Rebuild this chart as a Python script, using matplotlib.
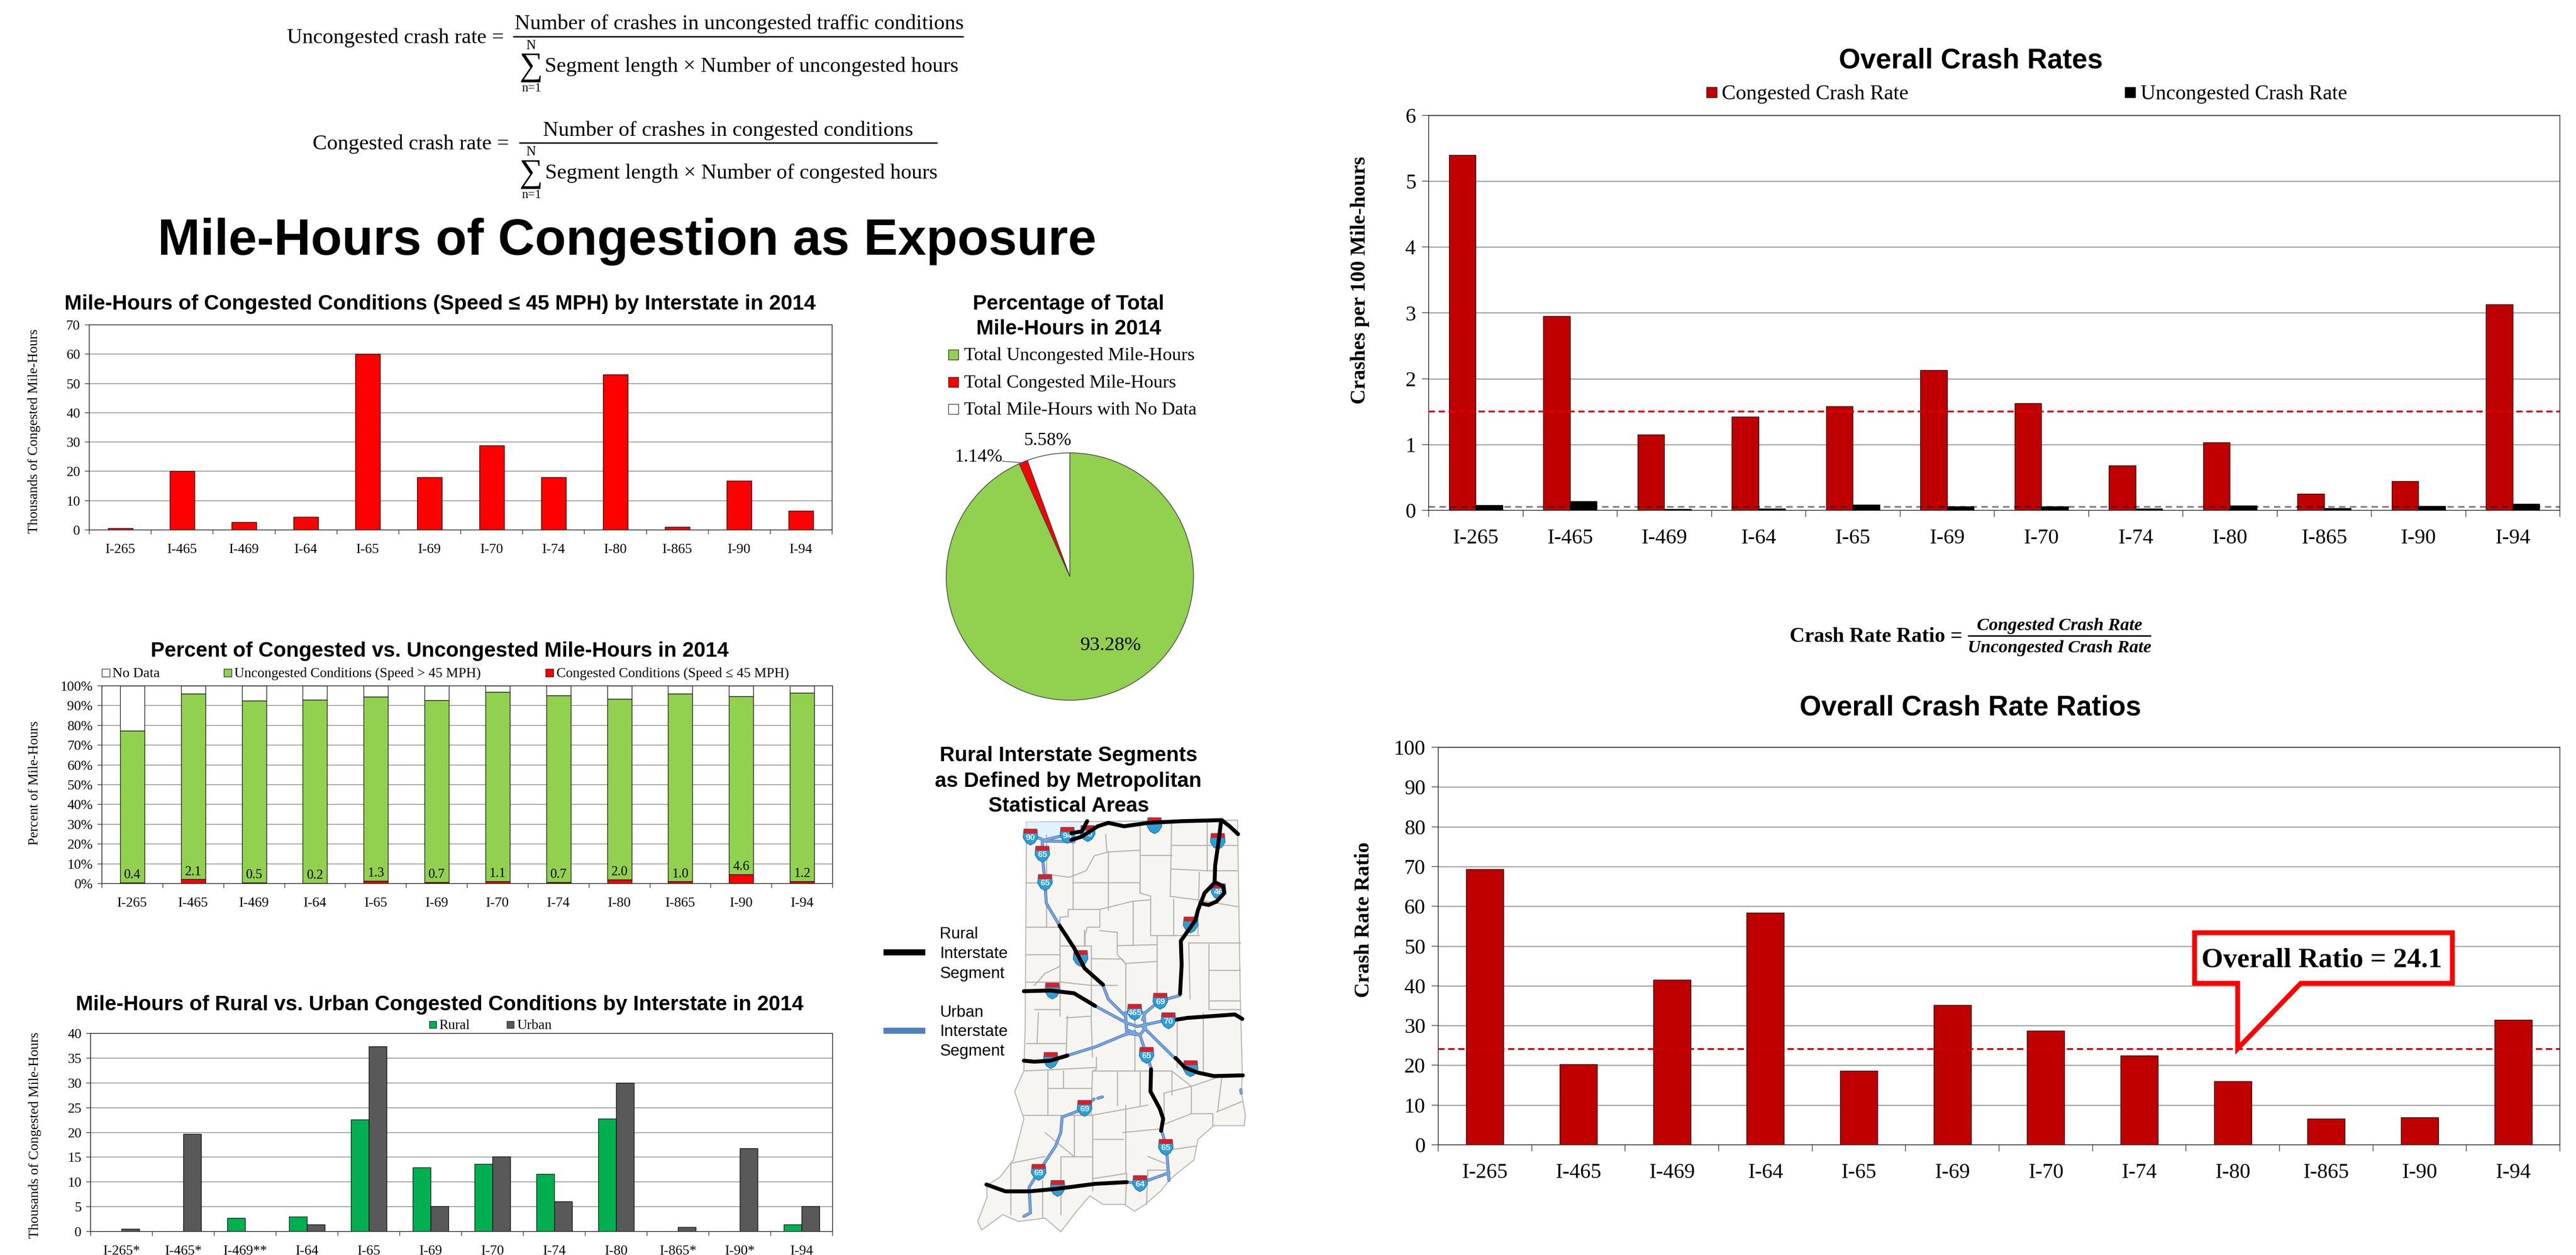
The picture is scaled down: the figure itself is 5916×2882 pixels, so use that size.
import matplotlib
matplotlib.use("Agg")
import matplotlib.pyplot as plt
from matplotlib.patches import Rectangle, Polygon

# ---------------- data ----------------
interstates = ["I-265", "I-465", "I-469", "I-64", "I-65", "I-69", "I-70", "I-74", "I-80", "I-865", "I-90", "I-94"]
interstates_marked = ["I-265*", "I-465*", "I-469**", "I-64", "I-65", "I-69", "I-70", "I-74", "I-80", "I-865*", "I-90*", "I-94"]

congested_miles = [0.6, 20, 2.7, 4.4, 60, 18, 28.8, 18, 53, 1, 16.8, 6.5]

pct_congested = [0.4, 2.1, 0.5, 0.2, 1.3, 0.7, 1.1, 0.7, 2.0, 1.0, 4.6, 1.2]
pct_uncongested = [76.9, 93.9, 92.0, 92.8, 93.2, 92.1, 95.9, 94.5, 91.3, 95.0, 90.2, 95.3]
pct_no_data = [22.7, 4.0, 7.5, 7.0, 5.5, 7.2, 3.0, 4.8, 6.7, 4.0, 5.2, 3.5]

rural_miles = [0, 0, 2.7, 3.0, 22.6, 12.9, 13.6, 11.6, 22.8, 0, 0, 1.4]
urban_miles = [0.5, 19.7, 0, 1.4, 37.4, 5.1, 15.1, 6.1, 30.0, 0.9, 16.8, 5.1]

pie_values = [93.28, 1.14, 5.58]

rate_congested = [5.40, 2.95, 1.15, 1.42, 1.58, 2.13, 1.63, 0.68, 1.03, 0.25, 0.44, 3.13]
rate_uncongested = [0.08, 0.14, 0.02, 0.025, 0.085, 0.06, 0.06, 0.025, 0.07, 0.03, 0.065, 0.10]
overall_congested = 1.5
overall_uncongested = 0.055

ratios = [69.3, 20.3, 41.5, 58.4, 18.6, 35.2, 28.7, 22.5, 16.0, 6.6, 6.9, 31.4]
overall_ratio = 24.1

# map geometry, traced in map-panel units
state_outline = [(590,303),(1390,297),(1395,550),(1400,800),(1408,1040),(1405,1095),(1420,1160),(1415,1190),(1300,1190),
    (1240,1230),(1225,1290),(1160,1330),(1130,1350),(1100,1380),(1040,1420),(1000,1440),(960,1420),(880,1420),(830,1395),
    (780,1440),(720,1500),(660,1460),(560,1470),(500,1450),(420,1495),(405,1470),(440,1400),(440,1365),(490,1340),
    (540,1290),(580,1170),(545,1090),(580,1030),(585,900)]
lake = [(590,303),(820,303),(765,345),(665,352),(590,345)]
county_lines = [
    [(665,340),(665,610)],[(766,360),(766,558)],[(890,340),(895,390)],[(900,390),(900,560)],[(1020,310),(1020,510)],
    [(1140,310),(1135,520)],[(1275,300),(1275,445)],[(1245,450),(1240,630)],[(590,480),(660,480)],
    [(665,455),(752,464),(816,445),(847,401),(900,390),(1020,385)],[(1020,400),(1140,400)],[(1140,370),(1390,370)],
    [(1140,440),(1275,445),(1390,445)],[(765,480),(1020,480),(1020,510),(1060,519)],[(1135,520),(1240,530),(1390,550)],
    [(717,581),(748,579),(748,558),(868,558),(993,534),(1060,530)],[(590,610),(713,610),(717,581)],
    [(868,558),(868,610),(820,610),(812,634),(812,664)],[(808,664),(808,618)],[(934,625),(934,690),(965,716)],[(868,620),(934,625)],
    [(590,690),(717,690)],[(717,664),(835,664)],[(717,581),(717,869)],[(993,534),(993,659)],[(934,664),(1081,661)],
    [(1060,519),(1060,634),(1245,634)],[(1084,636),(1084,806)],[(1147,528),(1147,634)],[(835,702),(953,703),(965,716),(1084,710)],
    [(965,716),(965,850)],[(1205,655),(1400,655)],[(1205,655),(1210,820)],[(1280,660),(1280,850)],
    [(1280,735),(1400,735)],[(1285,825),(1400,825)],[(1285,850),(1400,850)],[(835,664),(835,869)],[(717,770),(835,780),(935,780)],
    [(620,780),(660,745),(715,725)],[(590,770),(717,770)],[(620,850),(717,850)],[(635,860),(630,950)],[(745,870),(740,990)],
    [(835,870),(740,875)],[(835,870),(840,990)],[(590,950),(740,950)],[(585,1030),(855,1020)],[(855,990),(855,1025),(840,1030),(835,1160)],
    [(730,1030),(730,1080),(835,1080)],[(670,1030),(670,1160)],[(670,1080),(730,1080)],[(580,1160),(835,1160),(1050,1130)],
    [(840,1030),(1140,1030)],[(935,1030),(935,1130)],[(1020,1030),(1020,1130)],[(1140,1030),(1140,1100)],[(1140,1030),(1215,1075),(1330,1045)],
    [(1110,1095),(1215,1075),(1215,1155)],[(1110,1095),(1110,1180)],[(1315,1145),(1330,1050),(1405,1045)],[(1310,1150),(1405,1120)],
    [(1295,1155),(1295,1190)],[(1115,1185),(1215,1155),(1295,1155)],[(965,1130),(965,1330)],[(955,1210),(1090,1200)],[(840,1160),(840,1380)],
    [(840,1230),(955,1230)],[(840,1345),(965,1330)],[(770,1160),(770,1280),(720,1280),(720,1370)],[(660,1210),(770,1280)],[(770,1280),(840,1280)],
    [(720,1370),(720,1450)],[(530,1300),(530,1450)],[(530,1300),(660,1280)],[(650,1350),(650,1460)],[(965,1420),(970,1330)],
    [(1045,1420),(1050,1320),(1130,1320)],[(1050,1280),(1115,1300)],[(1100,1210),(1140,1260),(1230,1250)],[(1000,860),(1000,1030)],
    [(1160,880),(1160,1020)],[(1260,860),(1260,1030)]]
urban_routes = [
    [(605,345),(640,350),(660,358),(770,360)],[(660,355),(740,340)],
    [(650,360),(650,400),(660,480),(665,540),(715,605)],[(880,780),(900,820),(965,870),(970,910),(1020,925),(1045,985),(1062,1020)],
    [(1100,1200),(1120,1250),(1130,1350)],[(970,1355),(1020,1358),(1130,1328)],[(850,840),(970,890),(1010,900),(1130,880),(1160,880)],
    [(745,985),(850,960),(960,925),(1000,915)],[(965,860),(1035,860),(1040,905),(1020,925),(970,920),(965,860)],
    [(1030,880),(1040,860),(1095,825),(1170,810)],[(810,1140),(725,1165),(720,1210),(700,1250),(640,1320),(600,1370),(605,1445),(580,1455)],
    [(1030,900),(1155,995)],[(860,1110),(878,1106)],[(838,1118),(846,1112)],[(1402,1085),(1404,1095)]]
rural_routes = [
    [(760,335),(800,330),(820,300)],[(760,355),(800,345),(860,315),(900,305),(960,315),(1050,305),(1180,300),(1330,297),(1360,315),(1392,338)],
    [(1328,297),(1318,360),(1305,430),(1303,480),(1265,510),(1240,560),(1230,590),(1175,650),(1178,720),(1172,805)],
    [(1303,478),(1335,490),(1340,510),(1310,535),(1280,545),(1250,540)],[(715,605),(770,670),(810,730),(880,778)],
    [(580,797),(680,795),(770,803),(850,840)],[(580,1000),(620,1003),(680,1000),(745,985)],[(1160,880),(1200,875),(1380,865),(1408,878)],
    [(1155,992),(1190,1020),(1240,1035),(1300,1045),(1410,1043)],[(1062,1025),(1060,1090),(1095,1140),(1108,1170),(1100,1205)],
    [(438,1362),(510,1382),(600,1382),(700,1375),(850,1360),(970,1355)]]
shields = [(605,345,"90"),(745,340,"94"),(822,335,"80"),(1075,312,""),(1315,358,""),(1318,505,"46"),(1212,602,""),(650,395,"65"),
    (660,478,"65"),(795,700,""),(688,795,""),(682,998,""),(1000,857,"465"),(1097,825,"69"),(1128,882,"70"),(1045,983,"65"),
    (1212,1022,""),(810,1138,"69"),(1118,1252,"65"),(636,1325,"69"),(708,1372,""),(1020,1358,"64")]

# ---------------- style ----------------
W, H = 5916, 2882
SERIF = ["Liberation Serif", "DejaVu Serif"]
SANS = ["Liberation Sans", "DejaVu Sans"]
plt.rcParams["font.family"] = SERIF
fig = plt.figure(figsize=(W / 100, H / 100), dpi=100, facecolor="white")

GREEN = "#92D050"; RED = "#FF0000"; DKRED = "#C00000"; RURAL = "#00B050"; URBAN = "#595959"
EDGE = "#000000"

def axes_px(l, t, r, b):
    return fig.add_axes([l / W, 1 - b / H, (r - l) / W, (b - t) / H])

def style(ax, ymax, step, xlabels, fs, ytickfmt="{:g}", tick=7, xpad=15, ypad=8, grid="#868686", glw=1.2):
    ax.set_xlim(-0.5, 11.5); ax.set_ylim(0, ymax)
    ax.set_xticks([i - 0.5 for i in range(13)])
    ax.set_xticks(range(12), minor=True)
    ax.set_xticklabels([]); ax.set_xticklabels(xlabels, minor=True)
    ax.tick_params(axis="x", which="major", length=tick, width=1.2, color="#404040")
    ax.tick_params(axis="x", which="minor", length=0, pad=tick + xpad, labelsize=fs)
    yt = [step * i for i in range(int(round(ymax / step)) + 1)]
    ax.set_yticks(yt); ax.set_yticklabels([ytickfmt.format(v) for v in yt])
    ax.tick_params(axis="y", length=tick, width=1.2, color="#404040", pad=ypad, labelsize=fs)
    ax.grid(axis="y", color=grid, lw=glw); ax.set_axisbelow(True)
    for s in ax.spines.values():
        s.set_color("#303030"); s.set_linewidth(1.3)

# ---------------- chart 1 ----------------
a1 = axes_px(205, 746, 1911, 1217)
a1.bar(range(12), congested_miles, 0.4, color=RED, edgecolor=EDGE, lw=1)
style(a1, 70, 10, interstates, 23)

# ---------------- chart 2 ----------------
a2 = axes_px(234, 1575, 1912, 2029)
b_unc = pct_congested
b_nd = [c + u for c, u in zip(pct_congested, pct_uncongested)]
a2.bar(range(12), pct_congested, 0.4, color=RED, edgecolor=EDGE, lw=1)
a2.bar(range(12), pct_uncongested, 0.4, bottom=b_unc, color=GREEN, edgecolor=EDGE, lw=1)
a2.bar(range(12), pct_no_data, 0.4, bottom=b_nd, color="white", edgecolor=EDGE, lw=1)
style(a2, 100, 10, interstates, 23, "{:g}%")
for i, v in enumerate(pct_congested):
    a2.annotate(f"{v:.1f}", (i, v), xytext=(0, 2), textcoords="offset points", ha="center", va="bottom", fontsize=22)

# ---------------- chart 3 ----------------
a3 = axes_px(208, 2373, 1912, 2828)
w3 = 0.29
a3.bar([i - w3 / 2 for i in range(12)], rural_miles, w3, color=RURAL, edgecolor=EDGE, lw=1)
a3.bar([i + w3 / 2 for i in range(12)], urban_miles, w3, color=URBAN, edgecolor=EDGE, lw=1)
style(a3, 40, 5, interstates_marked, 23)

# ---------------- pie ----------------
ap = axes_px(2457 - 290, 1324 - 290, 2457 + 290, 1324 + 290)
ap.pie(pie_values, colors=[GREEN, RED, "white"], startangle=90, counterclock=False, radius=284 / 290,
       wedgeprops=dict(edgecolor="#404040", linewidth=1.2))
ap.set_xlim(-1, 1); ap.set_ylim(-1, 1)

# ---------------- right top ----------------
a4 = axes_px(3281, 265, 5879, 1172)
w4 = 0.285
a4.bar([i - w4 / 2 for i in range(12)], rate_congested, w4, color=DKRED, edgecolor=EDGE, lw=1)
a4.bar([i + w4 / 2 for i in range(12)], rate_uncongested, w4, color="black", edgecolor=EDGE, lw=1, zorder=6)
a4.axhline(overall_congested, color="#E00000", lw=3, ls=(0, (3.5, 2)), zorder=5)
a4.axhline(overall_uncongested, color="black", alpha=0.5, lw=2.8, ls=(0, (3.8, 2.6)), zorder=5)
style(a4, 6, 1, interstates, 35, tick=11, xpad=19, ypad=10, grid="#A6A6A6", glw=2)

# ---------------- right bottom ----------------
a5 = axes_px(3303, 1716, 5879, 2629)
a5.bar(range(12), ratios, 0.4, color=DKRED, edgecolor=EDGE, lw=1)
a5.axhline(overall_ratio, color="#D00000", lw=3, ls=(0, (3.5, 2)), zorder=1.5)
style(a5, 100, 10, interstates, 35, tick=11, xpad=19, ypad=10, grid="#A6A6A6", glw=2)

# ---------------- map ----------------
am = axes_px(2000, 1650, 2950, 2882)
am.set_xlim(0, 1568); am.set_ylim(1568, 0); am.axis("off")
am.add_patch(Polygon(state_outline, closed=True, fc="#F7F5F1", ec="#B8B8B8", lw=1.8, zorder=1))
am.add_patch(Polygon(lake, closed=True, fc="#E2F2FC", ec="none", zorder=1.5))
for ln in county_lines:
    am.plot(*zip(*ln), color="#B4B4B4", lw=1.9, zorder=2)
for ln in urban_routes:
    am.plot(*zip(*ln), color="#4F7DB3", lw=5, zorder=3, solid_capstyle="round")
    am.plot(*zip(*ln), color="#78A6E6", lw=2.8, zorder=3.1, solid_capstyle="round")
for x, y, lab in shields:
    am.add_patch(Polygon([(x - 25, y - 22), (x + 25, y - 22), (x + 28, y + 3), (x + 16, y + 18), (x, y + 25), (x - 16, y + 18), (x - 28, y + 3)],
                         closed=True, fc="#2C9FD8", ec="#1F6A9A", lw=1, zorder=4))
    am.add_patch(Polygon([(x - 25, y - 22), (x + 25, y - 22), (x + 26, y - 9), (x - 26, y - 9)], closed=True, fc="#D8202A", ec="none", zorder=4.1))
    if lab:
        am.text(x, y + 4, lab, ha="center", va="center", color="#E8F6FC", fontsize=14, fontweight="bold", family=SANS, zorder=4.2)
for ln in rural_routes:
    am.plot(*zip(*ln), color="black", lw=6.5, zorder=5, solid_capstyle="round", solid_joinstyle="round")

# ---------------- overlay: titles, legends, formulas ----------------
ov = fig.add_axes([0, 0, 1, 1], zorder=20)
ov.set_xlim(0, W); ov.set_ylim(H, 0); ov.axis("off"); ov.patch.set_alpha(0)
rend = fig.canvas.get_renderer()

def fit(s, x0, x1, y, ha="center", **kw):
    x = {"center": (x0 + x1) / 2, "left": x0, "right": x1}[ha]
    t = ov.text(x, y, s, ha=ha, va="center", fontsize=20, **kw)
    fs = 20 * (x1 - x0) / t.get_window_extent(rend).width
    t.set_fontsize(fs)
    t.set_y(y + 0.07 * fs * 100 / 72)
    return t

def fitv(s, x, y0, y1, **kw):
    t = ov.text(x, (y0 + y1) / 2, s, ha="center", va="center", rotation=90, fontsize=20, **kw)
    t.set_fontsize(20 * (y1 - y0) / t.get_window_extent(rend).height)
    return t

def bold(s, x0, x1, y):
    return fit(s, x0, x1, y, family=SANS, fontweight="bold")

def swatch(x0, x1, y, color):
    h = x1 - x0
    ov.add_patch(Rectangle((x0, y - h / 2), h, h, fc=color, ec="#202020", lw=1))

def hline(x0, x1, y, lw=2.4):
    ov.plot([x0, x1], [y, y], color="black", lw=lw, solid_capstyle="butt")

# formulas
fit("Uncongested crash rate =", 660, 1157, 83)
fit("Number of crashes in uncongested traffic conditions", 1183, 2213, 51)
hline(1178, 2213, 84)
fit("N", 1208, 1230, 103); fit("n=1", 1198, 1243, 201)
fit("∑", 1193, 1247, 149)
fit("Segment length × Number of uncongested hours", 1252, 2201, 149)
fit("Congested crash rate =", 718, 1169, 327)
fit("Number of crashes in congested conditions", 1248, 2097, 296)
hline(1192, 2153, 328)
fit("N", 1208, 1230, 347); fit("n=1", 1198, 1243, 446)
fit("∑", 1193, 1247, 394)
fit("Segment length × Number of congested hours", 1252, 2153, 394)

bold("Mile-Hours of Congestion as Exposure", 362, 2518, 547)

# chart 1
bold("Mile-Hours of Congested Conditions (Speed ≤ 45 MPH) by Interstate in 2014", 150, 1872, 695)
fitv("Thousands of Congested Mile-Hours", 78, 755, 1225)

# pie text
bold("Percentage of Total", 2234, 2674, 695)
bold("Mile-Hours in 2014", 2242, 2666, 752)
for y, c, s, x1 in [(814, GREEN, "Total Uncongested Mile-Hours", 2743), (877, RED, "Total Congested Mile-Hours", 2701),
                    (939, "white", "Total Mile-Hours with No Data", 2747)]:
    swatch(2178, 2201, y, c)
    fit(s, 2214, x1, y, ha="left")
fit("5.58%", 2352, 2461, 1009)
fit("1.14%", 2192, 2302, 1047)
ov.plot([2302, 2351], [1059, 1063], color="#505050", lw=1.2)
fit("93.28%", 2480, 2620, 1479)

# chart 2
bold("Percent of Congested vs. Uncongested Mile-Hours in 2014", 345, 1674, 1492)
fitv("Percent of Mile-Hours", 80, 1655, 1941)
swatch(234, 252, 1545, "white"); fit("No Data", 258, 367, 1545, ha="left")
swatch(514, 532, 1545, GREEN); fit("Uncongested Conditions (Speed > 45 MPH)", 538, 1105, 1545, ha="left")
swatch(1253, 1271, 1545, RED); fit("Congested Conditions (Speed ≤ 45 MPH)", 1278, 1812, 1545, ha="left")

# chart 3
bold("Mile-Hours of Rural vs. Urban Congested Conditions by Interstate in 2014", 174, 1845, 2304)
fitv("Thousands of Congested Mile-Hours", 80, 2371, 2844)
swatch(986, 1002, 2353, RURAL); fit("Rural", 1008, 1079, 2353, ha="left")
swatch(1164, 1180, 2353, URBAN); fit("Urban", 1187, 1267, 2353, ha="left")

# map text
bold("Rural Interstate Segments", 2158, 2750, 1732)
bold("as Defined by Metropolitan", 2148, 2759, 1791)
bold("Statistical Areas", 2270, 2638, 1848)
ov.plot([2029, 2125], [2187, 2187], color="black", lw=10, solid_capstyle="butt")
ov.plot([2029, 2125], [2367, 2367], color="#4F81BD", lw=10, solid_capstyle="butt")
fit("Rural", 2158, 2246, 2143, ha="left", family=SANS)
fit("Interstate", 2158, 2313, 2188, ha="left", family=SANS)
fit("Segment", 2158, 2306, 2234, ha="left", family=SANS)
fit("Urban", 2158, 2258, 2323, ha="left", family=SANS)
fit("Interstate", 2158, 2313, 2367, ha="left", family=SANS)
fit("Segment", 2158, 2306, 2412, ha="left", family=SANS)

# right top
bold("Overall Crash Rates", 4224, 4828, 135)
fitv("Crashes per 100 Mile-hours", 3123, 360, 928, fontweight="bold")
swatch(3919, 3943, 212, DKRED); fit("Congested Crash Rate", 3954, 4382, 212, ha="left")
swatch(4880, 4904, 212, "black"); fit("Uncongested Crash Rate", 4916, 5390, 212, ha="left")

# ratio formula
fit("Crash Rate Ratio =", 4110, 4506, 1459, fontweight="bold")
fit("Congested Crash Rate", 4540, 4919, 1435, fontweight="bold", style="italic")
hline(4519, 4940, 1460)
fit("Uncongested Crash Rate", 4519, 4940, 1486, fontweight="bold", style="italic")

# right bottom
bold("Overall Crash Rate Ratios", 4134, 4917, 1621)
fitv("Crash Rate Ratio", 3132, 1934, 2291, fontweight="bold")
callout = [(5040, 2142), (5632, 2142), (5632, 2258), (5284, 2258), (5139, 2408), (5139, 2258), (5040, 2258)]
ov.add_patch(Polygon(callout, closed=True, fc="white", ec="#FF0000", lw=8, joinstyle="miter"))
fit("Overall Ratio = 24.1", 5056, 5608, 2202, fontweight="bold")

fig.savefig("out.png", dpi=100, facecolor="white")
